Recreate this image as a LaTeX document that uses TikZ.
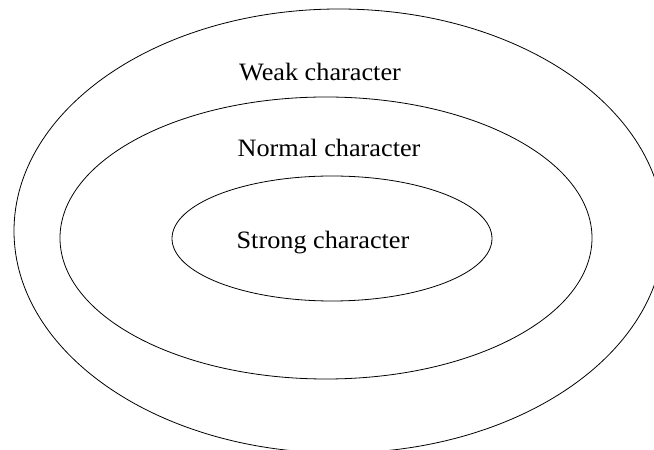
\documentclass[tikz,border=0pt]{standalone}
\usepackage{fontspec}
\setmainfont{Liberation Serif}

\tikzset{
  ring/.style={line width=0.8pt},
  label/.style={font=\fontsize{25}{30}\selectfont, xscale=1.05, inner sep=0pt}
}

\begin{document}
\begin{tikzpicture}[x=1pt,y=1pt]
  % page size of the reference, in pixels
  \useasboundingbox (0,0) rectangle (654,450);
  \clip (0,0) rectangle (654,450);

  \draw[ring] (339,219) ellipse [x radius=325, y radius=222];
  \draw[ring] (326,212) ellipse [x radius=266, y radius=141];
  \draw[ring] (332,211.5) ellipse [x radius=160, y radius=62.5];

  \node[label] (weak)   at (320,378) {Weak character};
  \node[label] (normal) at (329,302) {Normal character};
  \node[label] (strong) at (323,207) {Strong character};
\end{tikzpicture}
\end{document}
